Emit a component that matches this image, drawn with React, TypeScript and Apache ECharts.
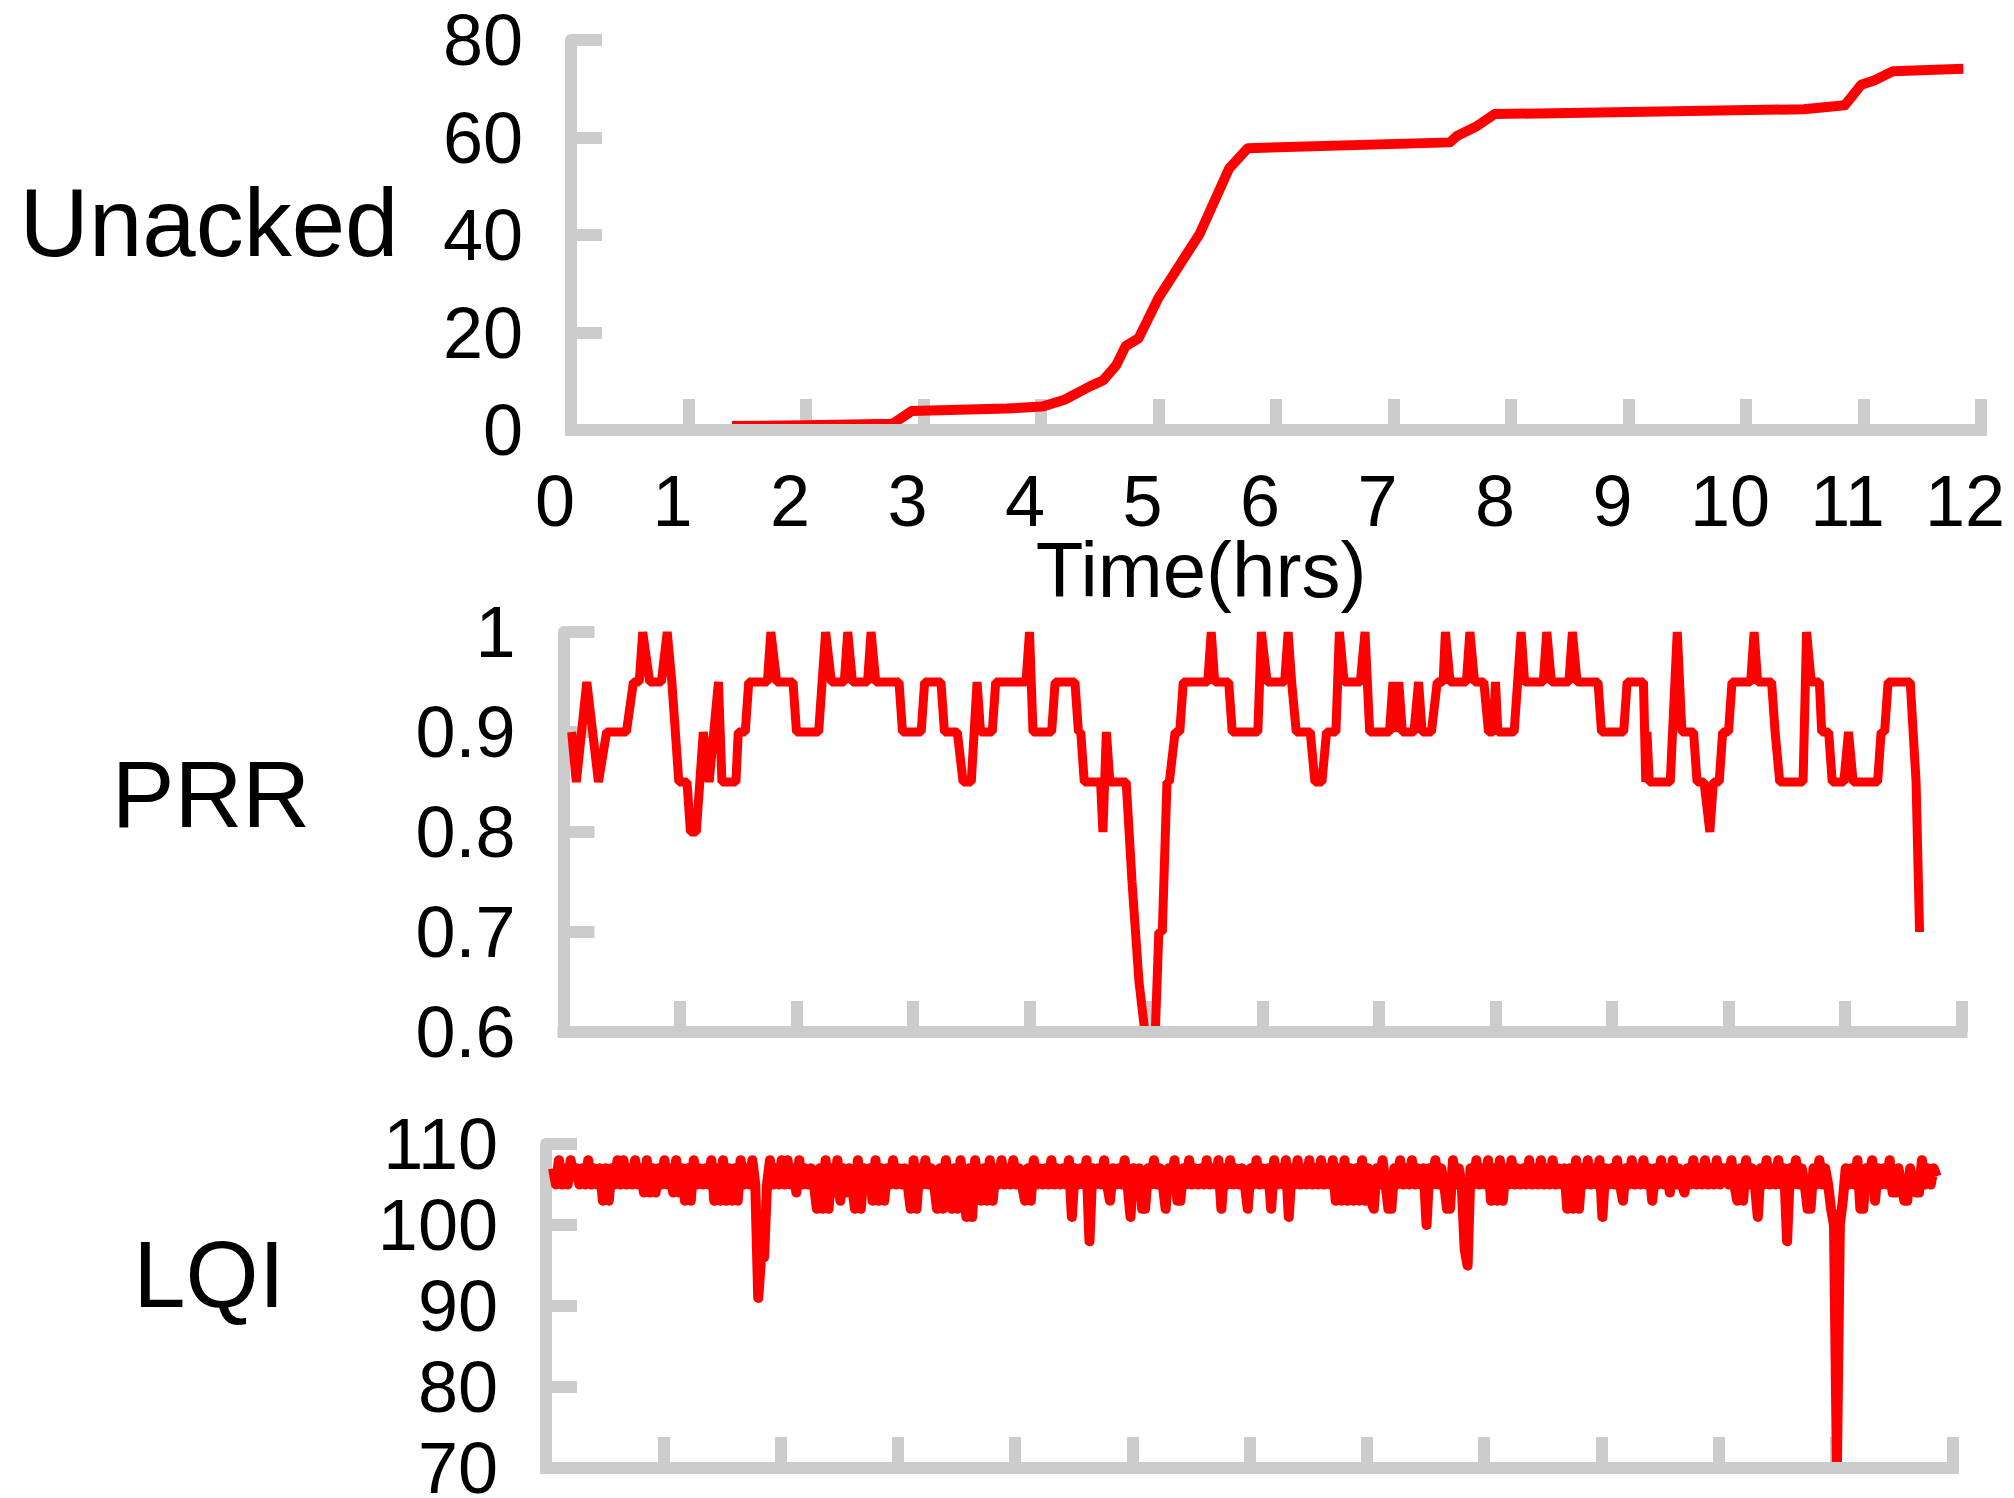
import React, { useEffect, useRef } from "react";
import * as echarts from "echarts";

// ---------- data ----------
const hourTicks = [0, 1, 2, 3, 4, 5, 6, 7, 8, 9, 10, 11, 12];

const unackedHours = [1.37, 2.0, 2.74, 2.9, 3.71, 4.01, 4.2, 4.42, 4.53, 4.64, 4.72, 4.83, 5.0, 5.24, 5.35, 5.6, 5.76, 7.48, 7.54, 7.7, 7.86, 10.49, 10.84, 10.98, 11.09, 11.25, 11.85];
const unackedValues = [0.8, 1.0, 1.3, 3.9, 4.4, 4.8, 6.2, 9.0, 10.2, 13.3, 17.2, 18.8, 27.1, 36.1, 40.2, 53.6, 57.8, 59.0, 60.3, 62.2, 64.8, 65.8, 66.6, 70.8, 71.7, 73.6, 74.1];

const prrHours = [
  0.07, 0.11, 0.2, 0.3, 0.37, 0.54, 0.6, 0.65, 0.68, 0.74, 0.84, 0.89, 0.93, 0.99,
  1.06, 1.09, 1.14, 1.2, 1.25, 1.33, 1.36, 1.48, 1.5, 1.56, 1.59, 1.75, 1.78, 1.83, 1.97,
  2.0, 2.19, 2.22, 2.25, 2.3, 2.41, 2.44, 2.48, 2.61, 2.64, 2.68, 2.88, 2.91,
  3.07, 3.1, 3.24, 3.27, 3.38, 3.43, 3.5, 3.55, 3.58, 3.68, 3.71, 3.97,
  4.0, 4.03, 4.19, 4.22, 4.39, 4.42, 4.44, 4.47, 4.61, 4.63, 4.66, 4.69, 4.83, 4.88, 4.94, 4.99,
  5.08, 5.11, 5.14, 5.18, 5.2, 5.25, 5.29, 5.32, 5.53, 5.56, 5.59, 5.71, 5.74, 5.96, 5.99,
  6.04, 6.19, 6.22, 6.25, 6.29, 6.41, 6.45, 6.51, 6.55, 6.63, 6.66, 6.7, 6.84, 6.88, 6.92,
  7.09, 7.12, 7.14, 7.17, 7.2, 7.3, 7.34, 7.37, 7.45, 7.5, 7.55, 7.57, 7.61, 7.75, 7.78, 7.82, 7.9, 7.94, 7.98,
  8.0, 8.02, 8.16, 8.22, 8.25, 8.41, 8.44, 8.48, 8.63, 8.66, 8.7, 8.88, 8.91,
  9.1, 9.13, 9.27, 9.29, 9.3, 9.32, 9.5, 9.56, 9.6, 9.7, 9.73, 9.79, 9.84, 9.87, 9.92, 9.95,
  10.0, 10.03, 10.19, 10.22, 10.25, 10.37, 10.4, 10.44, 10.64, 10.67, 10.71, 10.78, 10.8, 10.86, 10.89, 10.99,
  11.03, 11.07, 11.28, 11.31, 11.34, 11.37, 11.56, 11.61, 11.64,
];
const prrValues = [
  0.9, 0.85, 0.95, 0.85, 0.9, 0.9, 0.95, 0.95, 1.0, 0.95, 0.95, 1.0, 0.95, 0.85,
  0.85, 0.8, 0.8, 0.9, 0.85, 0.95, 0.85, 0.85, 0.9, 0.9, 0.95, 0.95, 1.0, 0.95, 0.95,
  0.9, 0.9, 0.95, 1.0, 0.95, 0.95, 1.0, 0.95, 0.95, 1.0, 0.95, 0.95, 0.9,
  0.9, 0.95, 0.95, 0.9, 0.9, 0.85, 0.85, 0.95, 0.9, 0.9, 0.95, 0.95,
  1.0, 0.9, 0.9, 0.95, 0.95, 0.9, 0.9, 0.85, 0.85, 0.8, 0.9, 0.85, 0.85, 0.75, 0.65, 0.6,
  0.6, 0.7, 0.7, 0.85, 0.85, 0.9, 0.9, 0.95, 0.95, 1.0, 0.95, 0.95, 0.9, 0.9, 1.0,
  0.95, 0.95, 1.0, 0.95, 0.9, 0.9, 0.85, 0.85, 0.9, 0.9, 1.0, 0.95, 0.95, 1.0, 0.9,
  0.9, 0.95, 0.9, 0.95, 0.9, 0.9, 0.95, 0.9, 0.9, 0.95, 0.95, 1.0, 0.95, 0.95, 1.0, 0.95, 0.95, 0.9, 0.9,
  0.95, 0.9, 0.9, 1.0, 0.95, 0.95, 1.0, 0.95, 0.95, 1.0, 0.95, 0.95, 0.9,
  0.9, 0.95, 0.95, 0.85, 0.9, 0.85, 0.85, 1.0, 0.9, 0.9, 0.85, 0.85, 0.8, 0.85, 0.85, 0.9,
  0.9, 0.95, 0.95, 1.0, 0.95, 0.95, 0.9, 0.85, 0.85, 1.0, 0.95, 0.95, 0.9, 0.9, 0.85, 0.85,
  0.9, 0.85, 0.85, 0.9, 0.9, 0.95, 0.95, 0.85, 0.7,
];

// LQI samples, one every lqiStepHours starting at lqiStartHour
const lqiStartHour = 0.06;
const lqiStepHours = 0.025;
const lqiHour0 = [107, 105, 108, 105, 107, 105, 108, 106, 107, 105, 107, 105, 108, 105, 107, 105, 107, 103, 107, 103, 107, 105, 108, 105, 108, 105, 107, 105, 108, 105, 107, 104, 108, 104, 107, 104, 107, 105, 108, 105];
const lqiHour1 = [107, 104, 108, 104, 107, 103, 107, 103, 108, 105, 107, 105, 107, 105, 108, 103, 107, 103, 108, 103, 107, 103, 107, 103, 108, 105, 107, 105, 108, 105, 91, 96, 96, 105, 108, 105, 107, 105, 108, 105];
const lqiHour2 = [108, 105, 107, 104, 108, 105, 107, 105, 107, 105, 102, 107, 102, 108, 102, 107, 104, 108, 103, 107, 104, 107, 105, 102, 108, 102, 107, 105, 107, 103, 108, 103, 107, 103, 107, 105, 108, 105, 107, 105];
const lqiHour3 = [107, 105, 102, 108, 102, 107, 105, 108, 105, 107, 105, 102, 107, 102, 108, 105, 102, 107, 102, 108, 105, 101, 107, 101, 108, 105, 103, 107, 103, 108, 103, 107, 105, 108, 105, 107, 105, 108, 105, 107];
const lqiHour4 = [105, 103, 107, 103, 108, 105, 107, 105, 107, 105, 108, 105, 107, 105, 107, 105, 108, 101, 107, 105, 107, 105, 108, 98, 107, 105, 107, 105, 108, 105, 103, 107, 105, 107, 105, 108, 105, 101, 107, 105];
const lqiHour5 = [107, 102, 102, 107, 105, 108, 105, 107, 105, 102, 107, 105, 108, 103, 103, 107, 105, 108, 105, 107, 105, 107, 105, 108, 105, 107, 105, 108, 102, 107, 105, 108, 105, 107, 105, 107, 105, 102, 107, 105];
const lqiHour6 = [108, 105, 107, 105, 107, 102, 108, 105, 107, 105, 108, 101, 107, 105, 108, 105, 107, 105, 108, 105, 107, 105, 108, 105, 107, 105, 108, 103, 107, 103, 108, 103, 107, 103, 107, 103, 108, 103, 107, 103];
const lqiHour7 = [102, 107, 105, 108, 105, 102, 102, 107, 105, 108, 105, 107, 105, 108, 105, 107, 105, 107, 100, 107, 105, 108, 105, 107, 105, 102, 102, 108, 105, 107, 105, 97, 95, 107, 105, 108, 105, 107, 105, 108];
const lqiHour8 = [103, 107, 103, 108, 103, 107, 105, 108, 105, 107, 105, 107, 105, 108, 105, 107, 105, 108, 105, 107, 105, 108, 105, 107, 105, 107, 102, 107, 102, 108, 102, 107, 105, 108, 105, 107, 105, 108, 101, 107];
const lqiHour9 = [105, 107, 105, 108, 105, 103, 107, 105, 108, 105, 107, 105, 108, 105, 107, 103, 107, 105, 108, 105, 107, 104, 108, 105, 107, 105, 104, 107, 105, 108, 105, 107, 105, 108, 105, 107, 105, 108, 105, 107];
const lqiHour10 = [107, 105, 108, 105, 103, 107, 103, 108, 105, 107, 105, 101, 107, 105, 108, 105, 107, 105, 108, 105, 107, 98, 107, 105, 108, 105, 107, 105, 102, 102, 107, 105, 108, 105, 107, 105, 102, 100, 70, 100];
const lqiHour11 = [103, 107, 105, 107, 105, 108, 102, 102, 107, 105, 108, 103, 107, 105, 107, 105, 108, 104, 104, 107, 105, 103, 103, 107, 105, 104, 104, 108, 105, 107, 105, 107, 106];

const unackedTicks = { min: 0, max: 80, interval: 20 };
const prrTicks = { min: 0.6, max: 1, interval: 0.1 };
const lqiTicks = { min: 70, max: 110, interval: 10 };

// ---------- styling ----------
const FONT = "'Liberation Sans', Arial, Helvetica, sans-serif";
const GREY = "#cccccc";
const RED = "#ff0000";

// axis line only, drawn above the series
function xAxisLineFor(gridIndex: number) {
  return {
    type: "value",
    gridIndex,
    position: "bottom",
    offset: 0,
    min: hourTicks[0],
    max: hourTicks[hourTicks.length - 1],
    interval: 1,
    z: 3,
    axisLine: { show: true, onZero: false, lineStyle: { color: GREY, width: 12, cap: "square" } },
    axisTick: { show: false },
    axisLabel: { show: false },
    splitLine: { show: false },
  };
}

// ticks (and labels), drawn below the series
function xAxisTicksFor(gridIndex: number, showLabels: boolean) {
  return {
    type: "value",
    gridIndex,
    position: "bottom",
    offset: 0,
    min: hourTicks[0],
    max: hourTicks[hourTicks.length - 1],
    interval: 1,
    z: 1,
    axisLine: { show: false, onZero: false },
    axisTick: { show: true, inside: true, length: 31, lineStyle: { color: GREY, width: 12 } },
    axisLabel: showLabels
      ? {
          show: true,
          fontSize: 72,
          lineHeight: 58,
          fontFamily: FONT,
          color: "#000",
          margin: 71,
          verticalAlign: "middle",
          padding: [0, 32, 0, 0],
        }
      : { show: false },
    splitLine: { show: false },
  };
}

function yAxisFor(gridIndex: number, t: { min: number; max: number; interval: number }) {
  return {
    type: "value",
    gridIndex,
    position: "left",
    min: t.min,
    max: t.max,
    interval: t.interval,
    z: 1,
    axisLine: { show: true, onZero: false, lineStyle: { color: GREY, width: 12 } },
    axisTick: { show: true, inside: true, length: 31, lineStyle: { color: GREY, width: 12 } },
    axisLabel: { show: true, fontSize: 72, lineHeight: 58, fontFamily: FONT, color: "#000", margin: 48 },
    splitLine: { show: false },
  };
}

function title(text: string, x: number, y: number, size: number) {
  return {
    type: "text",
    x,
    y,
    style: {
      text,
      fill: "#000",
      fontSize: size,
      lineHeight: Math.round(size * 0.8),
      fontFamily: FONT,
      align: "center",
      verticalAlign: "middle",
    },
  };
}

export default function App() {
  const ref = useRef<HTMLDivElement>(null);

  useEffect(() => {
    document.body.style.margin = "0";
    if (!ref.current) return;
    const chart = echarts.init(ref.current, null, { renderer: "svg" });

    const lqiValues = [
      ...lqiHour0, ...lqiHour1, ...lqiHour2, ...lqiHour3, ...lqiHour4, ...lqiHour5,
      ...lqiHour6, ...lqiHour7, ...lqiHour8, ...lqiHour9, ...lqiHour10, ...lqiHour11,
    ];
    const lqiData = lqiValues.map((v, i) => [lqiStartHour + i * lqiStepHours, v]);
    const unackedData = unackedHours.map((h, i) => [h, unackedValues[i]]);
    const prrData = prrHours.map((h, i) => [h, prrValues[i]]);

    chart.setOption({
      animation: false,
      backgroundColor: "#ffffff",
      grid: [
        { left: 571, top: 40, width: 1410, height: 390, outerBoundsMode: "none", containLabel: false },
        { left: 563.5, top: 632, width: 1398, height: 400, outerBoundsMode: "none", containLabel: false },
        { left: 546, top: 1144, width: 1407, height: 324, outerBoundsMode: "none", containLabel: false },
      ],
      xAxis: [
        xAxisLineFor(0), xAxisTicksFor(0, true),
        xAxisLineFor(1), xAxisTicksFor(1, false),
        xAxisLineFor(2), xAxisTicksFor(2, false),
      ],
      yAxis: [yAxisFor(0, unackedTicks), yAxisFor(1, prrTicks), yAxisFor(2, lqiTicks)],
      series: [
        {
          type: "line",
          xAxisIndex: 0,
          yAxisIndex: 0,
          data: unackedData,
          showSymbol: false,
          symbol: "none",
          lineStyle: { color: RED, width: 10, join: "round" },
          z: 2,
        },
        {
          type: "line",
          xAxisIndex: 2,
          yAxisIndex: 1,
          data: prrData,
          showSymbol: false,
          symbol: "none",
          lineStyle: { color: RED, width: 9 },
          z: 2,
        },
        {
          type: "line",
          xAxisIndex: 4,
          yAxisIndex: 2,
          data: lqiData,
          showSymbol: false,
          symbol: "none",
          lineStyle: { color: RED, width: 10, join: "round" },
          z: 2,
        },
      ],
      graphic: [
        title("Unacked", 209, 222, 96),
        title("PRR", 211, 794, 94),
        title("LQI", 209, 1274, 94),
        title("Time(hrs)", 1201, 570, 78),
      ],
    });

    return () => chart.dispose();
  }, []);

  return <div ref={ref} style={{ width: 2014, height: 1498 }} />;
}
